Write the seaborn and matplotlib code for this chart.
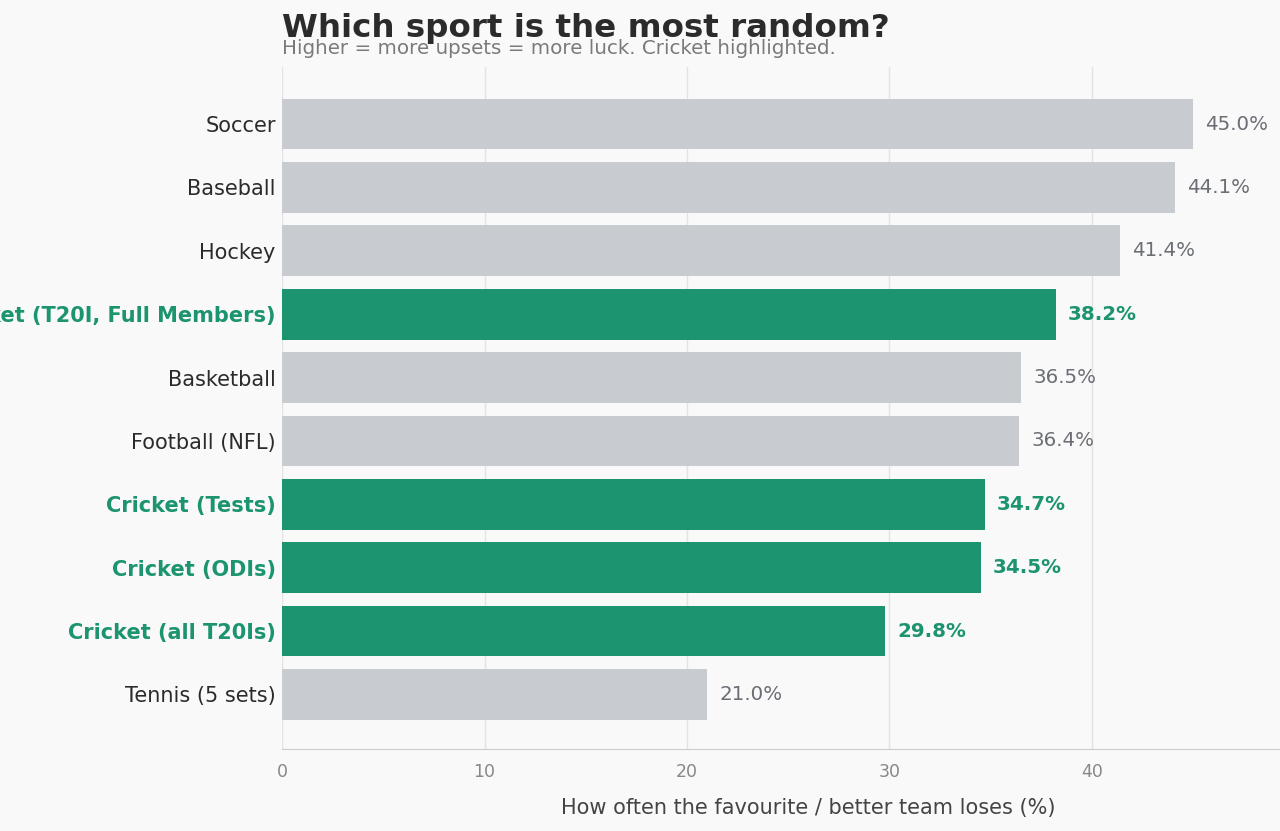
import pandas as pd
import numpy as np
import seaborn as sns
import matplotlib.pyplot as plt

# data
sports = ['Soccer', 'Baseball', 'Hockey', 'Cricket (T20I, Full Members)', 'Basketball',
          'Football (NFL)', 'Cricket (Tests)', 'Cricket (ODIs)', 'Cricket (all T20Is)', 'Tennis (5 sets)']
upset_pct = [45.0, 44.1, 41.4, 38.2, 36.5, 36.4, 34.7, 34.5, 29.8, 21.0]
is_cricket = [s.startswith('Cricket') for s in sports]

GREEN = '#1b946f'
GREY = '#c8cbcf'
BG = '#f9f9f9'

df = pd.DataFrame({'sport': sports, 'pct': upset_pct,
                   'group': ['cricket' if c else 'other' for c in is_cricket]})

sns.set_style('white')
plt.rcParams['font.family'] = ['DejaVu Sans']

fig = plt.figure(figsize=(12.8, 8.31), dpi=100, facecolor=BG)
# axes runs a bit past the right edge, like the original
ax = fig.add_axes([282 / 1280, 1 - 749 / 831, (1334 - 282) / 1280, (749 - 67) / 831])
ax.set_facecolor(BG)

sns.barplot(data=df, y='sport', x='pct', hue='group', dodge=False,
            palette={'cricket': GREEN, 'other': GREY}, width=0.8, saturation=1,
            linewidth=0, legend=False, ax=ax, zorder=2)

ax.set_xlim(0, 1052 / 20.25)
ax.set_ylim(len(sports) - 1 + 0.86, -0.9)
ax.set_xticks([0, 10, 20, 30, 40])
ax.grid(axis='x', color='#e3e3e3', linewidth=1, zorder=0)
ax.set_axisbelow(True)
for s in ['top', 'right', 'left']:
    ax.spines[s].set_visible(False)
ax.spines['bottom'].set_color('#cccccc')
ax.tick_params(axis='x', colors='#cccccc', labelcolor='#888888', labelsize=12.5, length=5, pad=5)
ax.tick_params(axis='y', length=0, labelsize=15, pad=4.5)

for lab, c in zip(ax.get_yticklabels(), is_cricket):
    if c:
        lab.set_color(GREEN)
        lab.set_fontweight('bold')
    else:
        lab.set_color('#2b2b2b')

for i, (v, c) in enumerate(zip(upset_pct, is_cricket)):
    ax.text(v + 0.6, i, f'{v:.1f}%', va='center', ha='left', fontsize=14.3,
            color=GREEN if c else '#6b6e75', fontweight='bold' if c else 'normal')

ax.set_ylabel('')
ax.set_xlabel('How often the favourite / better team loses (%)', fontsize=15,
              color='#444444', labelpad=12)

fig.text(282 / 1280, 1 - 28 / 831, 'Which sport is the most random?', fontsize=23.4,
         fontweight='bold', color='#2b2b2b', ha='left', va='center')
fig.text(282 / 1280, 1 - 48 / 831, 'Higher = more upsets = more luck. Cricket highlighted.',
         fontsize=14.3, color='#7a7a7a', ha='left', va='center')

fig.savefig('out.png', dpi=100, facecolor=BG)
